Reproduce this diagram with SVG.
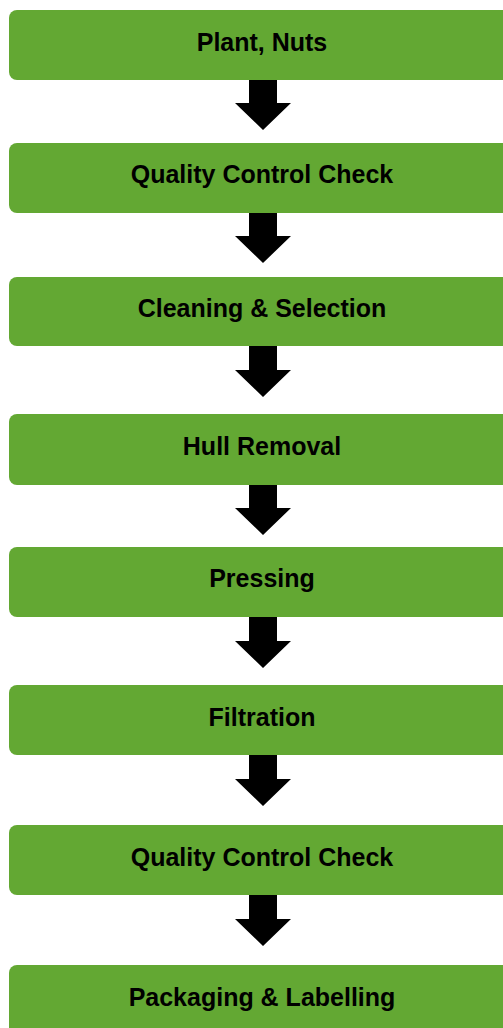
<svg xmlns="http://www.w3.org/2000/svg" width="503" height="1028" viewBox="0 0 503 1028">
<defs>
<style>
.box{fill:#63A833;}
.lbl{font-family:"Liberation Sans",Arial,sans-serif;font-weight:bold;font-size:25px;fill:#000;text-anchor:middle;}
.arr{fill:#000;}
</style>
<path id="arrow" d="M249,0 H277 V24 H291 L263,51 L235,24 H249 Z"/>
</defs>
<rect width="503" height="1028" fill="#fff"/>
<g id="connectors" class="arr">
<use href="#arrow" y="79"/>
<use href="#arrow" y="212"/>
<use href="#arrow" y="346"/>
<use href="#arrow" y="484"/>
<use href="#arrow" y="617"/>
<use href="#arrow" y="755"/>
<use href="#arrow" y="895"/>
</g>
<g id="n1"><rect class="box" x="9" y="10" width="506" height="70" rx="8"/><text class="lbl" x="262" y="51">Plant, Nuts</text></g>
<g id="n2"><rect class="box" x="9" y="143" width="506" height="70" rx="8"/><text class="lbl" x="262" y="183">Quality Control Check</text></g>
<g id="n3"><rect class="box" x="9" y="277" width="506" height="69" rx="8"/><text class="lbl" x="262" y="317">Cleaning &amp; Selection</text></g>
<g id="n4"><rect class="box" x="9" y="414" width="506" height="71" rx="8"/><text class="lbl" x="262" y="455">Hull Removal</text></g>
<g id="n5"><rect class="box" x="9" y="547" width="506" height="70" rx="8"/><text class="lbl" x="262" y="587">Pressing</text></g>
<g id="n6"><rect class="box" x="9" y="685" width="506" height="70" rx="8"/><text class="lbl" x="262" y="726">Filtration</text></g>
<g id="n7"><rect class="box" x="9" y="825" width="506" height="70" rx="8"/><text class="lbl" x="262" y="866">Quality Control Check</text></g>
<g id="n8"><rect class="box" x="9" y="965" width="506" height="70" rx="8"/><text class="lbl" x="262" y="1006">Packaging &amp; Labelling</text></g>
</svg>
